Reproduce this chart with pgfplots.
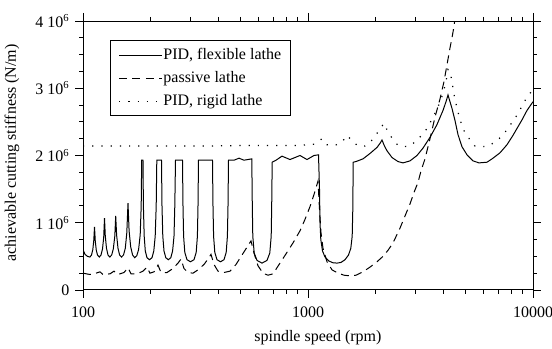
\documentclass[border=0pt]{standalone}
\usepackage{fontspec}
\setmainfont{Liberation Serif}
\usepackage{pgfplots}
\pgfplotsset{compat=1.18}

\begin{document}
\fontsize{12}{14.4}\selectfont
\begin{tikzpicture}
\begin{axis}[
  scale only axis,
  width=337.5pt, height=201.75pt,
  xmode=log, xmin=100, xmax=10000,
  ymin=0, ymax=4e6,
  xtick={100,1000,10000}, xticklabels={100,1000,10000},
  ytick={0,1e6,2e6,3e6,4e6},
  yticklabels={0,1 10\textsuperscript{6},2 10\textsuperscript{6},3 10\textsuperscript{6},4 10\textsuperscript{6}},
  scaled y ticks=false,
  minor y tick num=3,
  tick align=outside,
  major tick length=6pt, minor tick length=3pt,
  every tick/.style={black, line width=0.7pt},
  axis line style={line width=0.75pt},
  xticklabel style={yshift=-2.5pt},
  xlabel={spindle speed (rpm)},
  ylabel={achievable cutting stiffness (N/m)},
  every axis x label/.style={at={(axis description cs:0.522,-0.178)}, anchor=center},
  every axis y label/.style={at={(axis description cs:-0.158,0.51)}, rotate=90, anchor=center},
  legend style={at={(0.06,0.929)}, anchor=north west, draw=black, line width=0.75pt,
    inner xsep=6pt, inner ysep=4pt, row sep=3pt, fill=white,
    nodes={inner xsep=0.8pt, inner ysep=2pt}},
  legend cell align=left,
  legend image code/.code={\draw[#1] (0pt,0pt) -- (32pt,0pt);},
]
% PID controller on the flexible lathe
\addplot[black, line width=0.75pt] coordinates {
(100,0.60e6) (102.07,0.53e6) (104.71,0.50e6) (107.32,0.49e6) (109.09,0.52e6)
(110.55,0.60e6) (111.69,0.74e6) (112.49,0.94e6) (113.42,0.72e6) (114.58,0.59e6)
(116.00,0.52e6) (118.15,0.49e6) (120.22,0.52e6) (122.08,0.61e6) (123.59,0.78e6)
(124.61,1.07e6) (125.63,0.80e6) (127.18,0.62e6) (129.15,0.52e6) (131.55,0.49e6)
(134.13,0.52e6) (136.36,0.61e6) (138.47,0.80e6) (139.75,1.10e6) (141.04,0.82e6)
(143.08,0.62e6) (145.44,0.52e6) (148.30,0.49e6) (151.36,0.52e6) (154.18,0.62e6)
(156.56,0.85e6) (158.49,1.29e6) (160.28,0.88e6) (162.93,0.64e6) (166.13,0.52e6)
(169.74,0.48e6) (173.42,0.51e6) (176.65,0.60e6) (179.57,0.82e6) (181.41,1.25e6)
(182.35,1.93e6) (184.78,1.93e6) (185.54,1.25e6) (187.06,0.80e6) (189.18,0.58e6)
(192.50,0.48e6) (197.50,0.45e6) (202.61,0.48e6) (206.38,0.58e6) (209.36,0.80e6)
(211.51,1.25e6) (212.82,1.93e6) (223.29,1.93e6) (224.44,1.25e6) (226.29,0.80e6)
(229.08,0.58e6) (233.34,0.48e6) (239.40,0.45e6) (245.60,0.48e6) (250.16,0.58e6)
(253.77,0.80e6) (255.86,1.25e6) (257.70,1.93e6) (276.82,1.93e6) (278.26,1.25e6)
(279.97,0.80e6) (283.43,0.56e6) (289.88,0.45e6) (300.45,0.42e6) (311.41,0.45e6)
(318.50,0.56e6) (322.44,0.80e6) (324.42,1.25e6) (326.08,1.93e6) (376.31,1.93e6)
(378.25,1.25e6) (380.58,0.80e6) (385.28,0.56e6) (394.05,0.45e6) (408.42,0.42e6)
(423.32,0.45e6) (432.96,0.56e6) (438.31,0.80e6) (441.01,1.25e6) (443.27,1.93e6)
(468.94,1.93e6) (493.56,1.96e6) (519.47,1.93e6) (562.63,1.95e6) (565.52,1.25e6)
(568.42,0.80e6) (576.62,0.55e6) (593.37,0.44e6) (624.52,0.40e6) (657.32,0.44e6)
(676.43,0.55e6) (686.19,0.80e6) (689.71,1.25e6) (693.25,1.90e6) (720.74,1.93e6)
(766.37,1.99e6) (831.75,1.94e6) (921.39,2.00e6) (989.81,1.94e6) (1063.3,2.00e6)
(1113.5,2.01e6) (1124.9,1.50e6) (1130.7,1.00e6) (1140.0,0.75e6) (1160.0,0.58e6)
(1190.0,0.49e6) (1239.7,0.43e6) (1291.5,0.405e6) (1345.4,0.40e6) (1401.8,0.41e6)
(1460.4,0.45e6) (1513.6,0.52e6) (1549.7,0.62e6) (1572.0,0.80e6) (1581.7,1.20e6)
(1588.2,1.90e6) (1634.3,1.91e6) (1755.7,1.95e6) (1886.0,2.03e6) (2026.1,2.12e6)
(2089.3,2.18e6) (2132.5,2.23e6) (2187.7,2.14e6) (2244.4,2.07e6) (2362.2,1.97e6)
(2511.9,1.91e6) (2643.7,1.89e6) (2840.1,1.92e6) (3050.9,2.00e6) (3244.2,2.11e6)
(3485.1,2.27e6) (3743.9,2.46e6) (3981.1,2.67e6) (4105.2,2.80e6) (4190.1,2.90e6)
(4276.7,2.80e6) (4365.1,2.70e6) (4501.3,2.52e6) (4641.6,2.31e6) (4835.5,2.13e6)
(5089.4,2.01e6) (5411.7,1.92e6) (5754.4,1.89e6) (6245.2,1.90e6) (6640.8,1.96e6)
(7134.0,2.04e6) (7663.7,2.16e6) (8149.1,2.30e6) (8935.3,2.53e6) (9404.4,2.67e6)
(10000,2.80e6)
};
\addlegendentry{PID, flexible lathe}
% passive (uncontrolled) lathe
\addplot[black, line width=0.75pt, dash pattern=on 6pt off 4pt] coordinates {
(100,0.25e6) (107.43,0.23e6) (114.23,0.25e6) (119.00,0.27e6) (122.71,0.23e6)
(131.82,0.24e6) (137.34,0.28e6) (143.08,0.23e6) (152.14,0.26e6) (158.49,0.33e6)
(163.43,0.24e6) (173.78,0.24e6) (184.78,0.28e6) (192.50,0.34e6) (198.51,0.25e6)
(206.81,0.27e6) (215.44,0.37e6) (222.16,0.26e6) (236.22,0.26e6) (251.19,0.32e6)
(264.37,0.40e6) (272.61,0.46e6) (281.12,0.32e6) (292.86,0.26e6) (308.24,0.25e6)
(324.42,0.30e6) (344.96,0.38e6) (363.08,0.48e6) (370.58,0.53e6) (382.14,0.38e6)
(398.11,0.28e6) (423.32,0.26e6) (450.13,0.28e6) (478.63,0.38e6) (508.94,0.52e6)
(541.17,0.66e6) (558.04,0.73e6) (575.44,0.55e6) (599.48,0.36e6) (630.96,0.25e6)
(664.08,0.22e6) (698.95,0.24e6) (750.85,0.40e6) (806.60,0.56e6) (857.70,0.70e6)
(921.39,0.88e6) (969.76,1.05e6) (1020.7,1.24e6) (1063.3,1.42e6) (1107.8,1.62e6)
(1124.9,1.20e6) (1142.3,0.85e6) (1165.9,0.62e6) (1214.6,0.42e6) (1278.4,0.30e6)
(1359.4,0.25e6) (1445.5,0.22e6) (1537.0,0.21e6) (1634.3,0.22e6) (1755.7,0.27e6)
(1886.0,0.34e6) (2026.1,0.42e6) (2154.4,0.50e6) (2267.5,0.59e6) (2386.6,0.70e6)
(2563.8,0.92e6) (2698.3,1.10e6) (2840.1,1.28e6) (2958.7,1.45e6) (3082.4,1.60e6)
(3178.5,1.77e6) (3311.3,1.95e6) (3485.1,2.25e6) (3668.1,2.57e6) (3860.7,2.84e6)
(4022.1,3.10e6) (4147.4,3.35e6) (4276.7,3.60e6) (4365.1,3.75e6) (4455.5,3.92e6)
(4524.4,4.10e6)
};
\addlegendentry{passive lathe}
% PID controller on a rigid lathe
\addplot[black, line width=0.9pt, dash pattern=on 0.9pt off 6pt] coordinates {
(100,2.14e6) (198.51,2.14e6) (331.13,2.14e6) (552.36,2.15e6) (921.39,2.15e6)
(1074.3,2.17e6) (1154.1,2.25e6) (1214.6,2.16e6) (1318.2,2.15e6) (1416.2,2.20e6)
(1490.6,2.30e6) (1568.8,2.22e6) (1668.1,2.14e6) (1792.0,2.14e6) (1886.0,2.19e6)
(2026.1,2.33e6) (2176.6,2.48e6) (2267.5,2.35e6) (2362.2,2.26e6) (2511.9,2.15e6)
(2782.6,2.13e6) (3050.9,2.22e6) (3379.7,2.40e6) (3593.8,2.57e6) (3782.5,2.72e6)
(3981.1,2.92e6) (4105.2,3.10e6) (4190.1,3.28e6) (4276.7,3.25e6) (4365.1,3.10e6)
(4432.7,2.95e6) (4501.3,2.83e6) (4737.5,2.53e6) (4986.3,2.33e6) (5523.6,2.14e6)
(6245.2,2.13e6) (6778.1,2.20e6) (7356.4,2.30e6) (7742.6,2.41e6) (8317.5,2.55e6)
(8754.3,2.68e6) (9404.4,2.87e6) (10000,2.98e6)
};
\addlegendentry{PID, rigid lathe}
\end{axis}
\pgfresetboundingbox
\path (current axis.south west) ++(-62.25pt,-44.25pt) rectangle ([xshift=14.25pt,yshift=15.75pt]current axis.north east);
\end{tikzpicture}
\end{document}
